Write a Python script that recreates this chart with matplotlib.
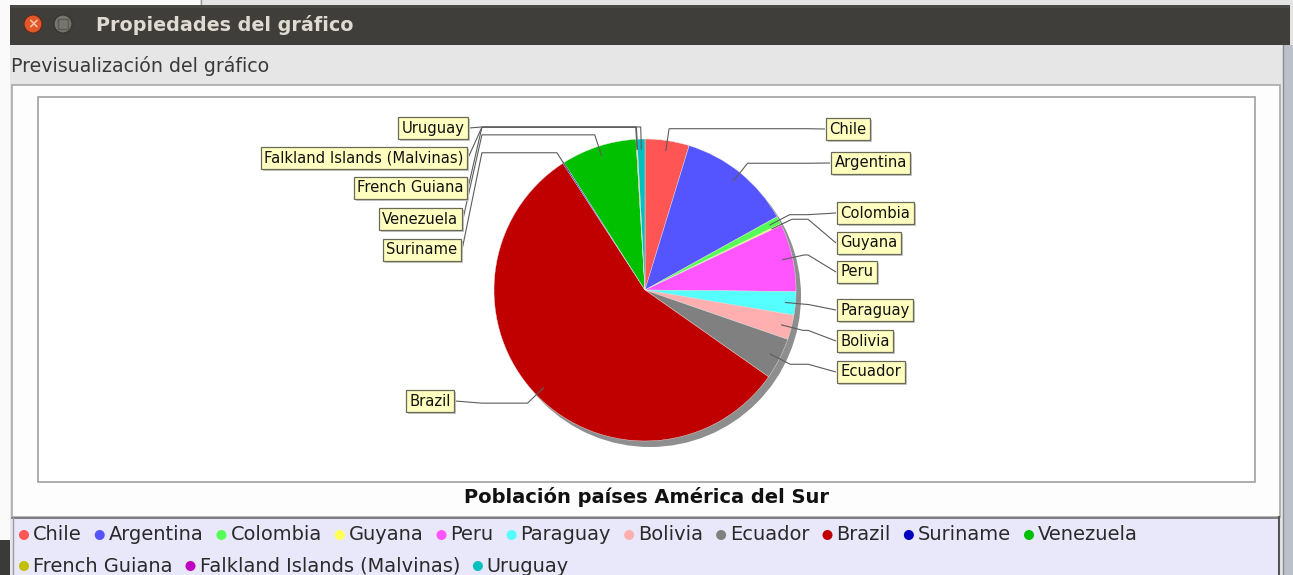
import matplotlib
matplotlib.use("Agg")
import matplotlib.pyplot as plt
from matplotlib.patches import Rectangle, Circle
import numpy as np

# ---------------- data ----------------
paises = ["Chile", "Argentina", "Colombia", "Guyana", "Peru", "Paraguay",
          "Bolivia", "Ecuador", "Brazil", "Suriname", "Venezuela",
          "French Guiana", "Falkland Islands (Malvinas)", "Uruguay"]
poblacion = [17.0, 44.0, 3.0, 0.6, 26.0, 9.0, 9.5, 16.0, 202.0, 0.5, 29.0,
             0.4, 0.05, 3.0]
colores = ["#FF5555", "#5555FF", "#55FF55", "#FFFF55", "#FF55FF", "#55FFFF",
           "#FFAFAF", "#808080", "#C00000", "#0000C0", "#00C000",
           "#C0C000", "#C000C0", "#00C0C0"]
titulo = "Población países América del Sur"
ventana = "Propiedades del gráfico"
subtitulo = "Previsualización del gráfico"
filas_leyenda = [11, 3]

# label layout: edge x (box side nearest the pie), centre y   (pixels)
label_pos = {
    "Chile": (825, 129), "Argentina": (830, 163), "Colombia": (836, 213),
    "Guyana": (836, 243), "Peru": (836, 272), "Paraguay": (836, 310),
    "Bolivia": (836, 341), "Ecuador": (836, 372),
    "Uruguay": (469, 128), "Falkland Islands (Malvinas)": (468, 158),
    "French Guiana": (468, 188), "Venezuela": (463, 219),
    "Suriname": (462, 250), "Brazil": (455, 401),
}

W, H = 1293, 575
fig = plt.figure(figsize=(W / 100, H / 100), dpi=100)
ax = fig.add_axes([0, 0, 1, 1])


def pt(px):
    return px * 72 / 100


# ---------------- window chrome ----------------
ax.add_patch(Rectangle((0, 0), W, H, fc="#E6E6E6", ec="none", zorder=0))
ax.add_patch(Rectangle((0, 0), 10, H, fc="#FAFAFA", ec="none", zorder=0.5))
ax.add_patch(Rectangle((0, 0), 200, 5, fc="#FAFAFA", ec="none", zorder=0.5))
ax.add_patch(Rectangle((200, 0), W - 200, 5, fc="#E4E4E4", ec="none", zorder=0.5))
ax.plot([201, 201], [0, 5], color="#9a9a9a", lw=1, zorder=0.6)
ax.add_patch(Rectangle((0, 540), 10, 35, fc="#3A3A38", ec="none", zorder=0.6))
# title bar
ax.add_patch(Rectangle((10, 5), 1280, 40, fc="#3F3E3A", ec="none", zorder=1))
ax.add_patch(Rectangle((10, 5), 1280, 3, fc="#4A4945", ec="none", zorder=1.1))
ax.add_patch(Circle((33, 24), 9, fc="#E2562A", ec="#5a2a18", lw=0.8, zorder=1.2))
ax.text(33, 24.5, "×", color="#F4C0A8", fontsize=pt(14), ha="center",
        va="center", fontweight="bold", zorder=1.3)
ax.add_patch(Circle((63, 24), 9, fc="#76766F", ec="#333330", lw=0.8, zorder=1.2))
ax.add_patch(Rectangle((58, 19), 10, 10, fc="none", ec="#5a5a55", lw=1, zorder=1.3))
ax.text(96, 25, ventana, color="#DFDBD2", fontsize=pt(19.2), fontweight="bold",
        ha="left", va="center", zorder=1.3)
# right strip
ax.add_patch(Rectangle((1283, 45), 10, H - 45, fc="#BCC0C8", ec="none", zorder=1))
ax.plot([1283, 1283], [45, H], color="#8a8e94", lw=1, zorder=1.1)
ax.add_patch(Rectangle((1290, 0), 3, 45, fc="#E4E4E4", ec="none", zorder=1))

ax.text(11, 66, subtitulo, color="#3a3a3a", fontsize=pt(19.0), ha="left",
        va="center", zorder=2)

# chart panel
ax.add_patch(Rectangle((12, 85), 1268, 432, fc="#FDFDFD", ec="#A8A8A8", lw=1.2, zorder=1))
ax.add_patch(Rectangle((38, 97), 1217, 385, fc="white", ec="#A0A0A0", lw=1.2, zorder=1.2))
ax.text(647, 497, titulo, color="#111111", fontsize=pt(19.5), fontweight="bold",
        ha="center", va="center", zorder=2)

# ---------------- pie ----------------
CX, CY, R = 645, 290, 151
ax.add_patch(Circle((CX + 5, CY + 6), R, fc="#8E8E8E", ec="none", zorder=2))
wedges, _ = ax.pie(poblacion, colors=colores, startangle=-90, counterclock=True,
                   center=(CX, CY), radius=R, frame=True,
                   wedgeprops=dict(edgecolor="#E8E8E8", linewidth=0.3, zorder=3))
for w in wedges:
    w.set_zorder(3)

lab_fs = pt(14.8)
pad_px = 3.5
for w, nombre in zip(wedges, paises):
    th = np.deg2rad((w.theta1 + w.theta2) / 2)
    c, s = np.cos(th), np.sin(th)
    inner = (CX + 0.93 * R * c, CY + 0.93 * R * s)
    elbow = (CX + 1.08 * R * c, CY + 1.08 * R * s)
    ex, ey = label_pos[nombre]
    right = c > 0
    link_x = CX + 1.08 * R if right else CX - 1.08 * R
    xs = [inner[0], elbow[0], link_x, ex]
    ys = [inner[1], elbow[1], elbow[1], ey]
    ax.plot(xs, ys, color="#5c5c5c", lw=0.8, zorder=4, solid_capstyle="butt")
    tx = ex + pad_px + 1 if right else ex - pad_px - 1
    ha = "left" if right else "right"
    bb = dict(boxstyle="square,pad=0.22", fc="#FFFFC0", ec="#6a6a58", lw=0.9)
    ax.text(tx, ey, nombre, fontsize=lab_fs, ha=ha, va="center", color="#111111",
            bbox=bb, zorder=6)
    sb = dict(boxstyle="square,pad=0.22", fc="#C8C8C8", ec="none")
    ax.text(tx + 2, ey + 2, nombre, fontsize=lab_fs, ha=ha, va="center",
            color=(0, 0, 0, 0), bbox=sb, zorder=5)

# ---------------- legend ----------------
ax.add_patch(Rectangle((12, 517), 1267, 60, fc="#E9E7FA", ec="none", zorder=1.5))
ax.plot([12, 1279], [517.5, 517.5], color="#6a6a6a", lw=1.2, zorder=1.6)
ax.plot([1278.5, 1278.5], [517, H], color="#555555", lw=1.5, zorder=1.6)
ax.plot([12.5, 12.5], [517, H], color="#9a9a9a", lw=1, zorder=1.6)

renderer = fig.canvas.get_renderer()
leg_fs = pt(19.4)
idx = 0
for fila, n in enumerate(filas_leyenda):
    y = 535 + fila * 31
    x = 24
    for k in range(n):
        nombre = paises[idx]
        ax.add_patch(Circle((x, y), 5, fc=colores[idx], ec="none", zorder=2))
        t = ax.text(x + 9, y, nombre, fontsize=leg_fs, ha="left", va="center",
                    color="#2a2a2a", zorder=2)
        wpx = t.get_window_extent(renderer).width
        x = x + 9 + wpx + 18
        idx += 1

ax.set_xlim(0, W)
ax.set_ylim(H, 0)
ax.set_aspect("auto")
ax.axis("off")
fig.savefig("out.png", dpi=100)
